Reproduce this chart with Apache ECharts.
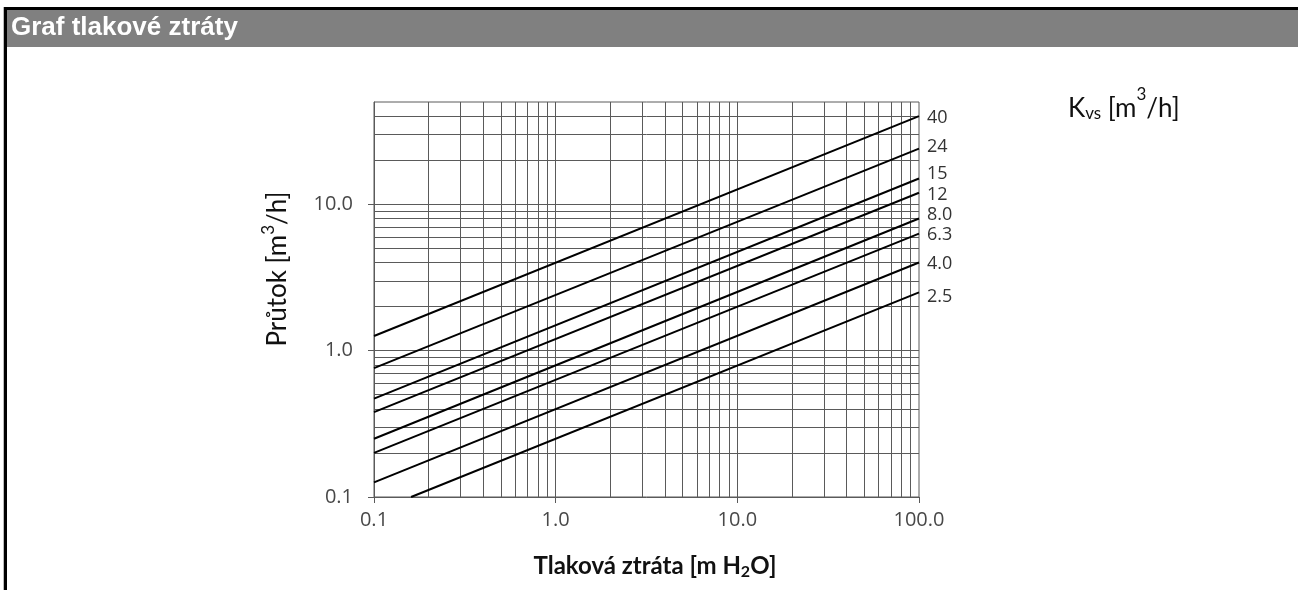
<!DOCTYPE html>
<html><head><meta charset="utf-8">
<script src="https://cdn.jsdelivr.net/npm/echarts@6/dist/echarts.min.js"></script>
<style>html,body{margin:0;padding:0;background:#fff}#c{width:1298px;height:590px}</style>
</head><body><div id="c"></div>
<script>
// Kvs curves: straight lines on log-log axes, read at their two ends
const kvsLabels = ['40', '24', '15', '12', '8.0', '6.3', '4.0', '2.5'];
const dpStart   = [0.1, 0.1, 0.1, 0.1, 0.1, 0.1, 0.1, 0.16];
const flowStart = [1.26, 0.76, 0.47, 0.38, 0.25, 0.2, 0.126, 0.1];
const dpEnd     = [100, 100, 100, 100, 100, 100, 100, 100];
const flowEnd   = [40, 24, 15, 12, 8.0, 6.3, 4.0, 2.5];
// axis ticks and grid
const xTickValues = [0.1, 1, 10, 100];
const yTickValues = [0.1, 1, 10];
const xGridValues = [0.2,0.3,0.4,0.5,0.6,0.7,0.8,0.9,1,2,3,4,5,6,7,8,9,10,20,30,40,50,60,70,80,90];
const yGridValues = [0.2,0.3,0.4,0.5,0.6,0.7,0.8,0.9,1,2,3,4,5,6,7,8,9,10,20,30,40];
// label nudges (style only)
const labelNudgeY = [2, -2, -5, 2, -4, 1.5, 1, 4];

const chart = echarts.init(document.getElementById('c'), null, {renderer: 'canvas'});
const gridColor = '#5a5a5a';
const tickFont = {fontFamily: 'Open Sans', fontSize: 20, color: '#484848'};

const series = kvsLabels.map((name, i) => ({
  type: 'line',
  name: name,
  data: [[dpStart[i], flowStart[i]], [dpEnd[i], flowEnd[i]]],
  symbol: 'none',
  silent: true,
  z: 5,
  lineStyle: {color: '#000', width: 2},
  endLabel: {
    show: true, formatter: name, distance: 8,
    offset: [0, labelNudgeY[i]],
    fontFamily: 'Open Sans', fontSize: 18, color: '#333'
  }
}));
series.push({
  type: 'line', data: [], silent: true, z: 2,
  markLine: {
    silent: true, symbol: 'none', animation: false,
    label: {show: false},
    lineStyle: {color: gridColor, width: 1, type: 'solid'},
    data: xGridValues.map(v => ({xAxis: v})).concat(yGridValues.map(v => ({yAxis: v})))
  }
});

chart.setOption({
  animation: false,
  grid: {left: 374, right: 379, top: 102, bottom: 93, show: true, borderColor: gridColor, borderWidth: 1, backgroundColor: 'transparent'},
  xAxis: {
    type: 'log', logBase: 10, min: 0.1, max: 100,
    axisLine: {show: true, lineStyle: {color: gridColor, width: 1}},
    axisTick: {show: true, length: 6, customValues: xTickValues, lineStyle: {color: gridColor}},
    axisLabel: Object.assign({margin: 13, customValues: xTickValues, formatter: v => Number(v).toFixed(1)}, tickFont),
    splitLine: {show: false}, minorTick: {show: false}, minorSplitLine: {show: false}
  },
  yAxis: {
    type: 'log', logBase: 10, min: 0.1, max: 50,
    axisLine: {show: true, lineStyle: {color: gridColor, width: 1}},
    axisTick: {show: true, length: 6, customValues: yTickValues, lineStyle: {color: gridColor}},
    axisLabel: Object.assign({margin: 21, customValues: yTickValues, formatter: v => Number(v).toFixed(1)}, tickFont),
    splitLine: {show: false}, minorTick: {show: false}, minorSplitLine: {show: false}
  },
  graphic: [
    {type: 'rect', shape: {x: 3, y: 7, width: 1, height: 583}, style: {fill: '#bbb'}, silent: true},
    {type: 'rect', shape: {x: 4, y: 7, width: 1294, height: 3}, style: {fill: '#000'}, silent: true},
    {type: 'rect', shape: {x: 7, y: 10, width: 1291, height: 37}, style: {fill: '#808080'}, silent: true},
    {type: 'rect', shape: {x: 4, y: 7, width: 3, height: 583}, style: {fill: '#000'}, silent: true},
    {type: 'text', x: 11, y: 28, silent: true, style: {
      text: 'Graf tlakové ztráty', fill: '#fff', font: 'bold 26px "Liberation Sans", Arial, sans-serif',
      verticalAlign: 'middle', align: 'left'}},
    {type: 'text', x: 1068, y: 104, silent: true, style: {
      text: '{n|K}{s|vs}{n| [m}{p|3}{n|/h]}', align: 'left', verticalAlign: 'middle',
      rich: {
        n: {fontFamily: 'Lato', fontSize: 26, fill: '#111', verticalAlign: 'bottom', lineHeight: 30},
        s: {fontFamily: 'Lato', fontSize: 17, fill: '#111', verticalAlign: 'bottom', lineHeight: 22},
        p: {fontFamily: 'Lato', fontSize: 17, fill: '#111', verticalAlign: 'top', lineHeight: 36}
      }}},
    {type: 'text', x: 278, y: 269, rotation: Math.PI / 2, silent: true, style: {
      text: '{n|Průtok [m}{p|3}{n|/h]}', align: 'center', verticalAlign: 'middle',
      rich: {
        n: {fontFamily: 'Lato', fontSize: 26, fill: '#111', lineHeight: 30},
        p: {fontFamily: 'Lato', fontSize: 17, fill: '#111', verticalAlign: 'top', lineHeight: 36}
      }}},
    {type: 'text', x: 655, y: 566, silent: true, style: {
      text: '{n|Tlaková ztráta [m H}{s|2}{n|O]}', align: 'center', verticalAlign: 'middle',
      rich: {
        n: {fontFamily: 'Lato', fontSize: 24, fontWeight: 'bold', fill: '#111', lineHeight: 28},
        s: {fontFamily: 'Lato', fontSize: 16, fontWeight: 'bold', fill: '#111', verticalAlign: 'bottom', lineHeight: 20}
      }}}
  ],
  series: series
});
</script></body></html>
